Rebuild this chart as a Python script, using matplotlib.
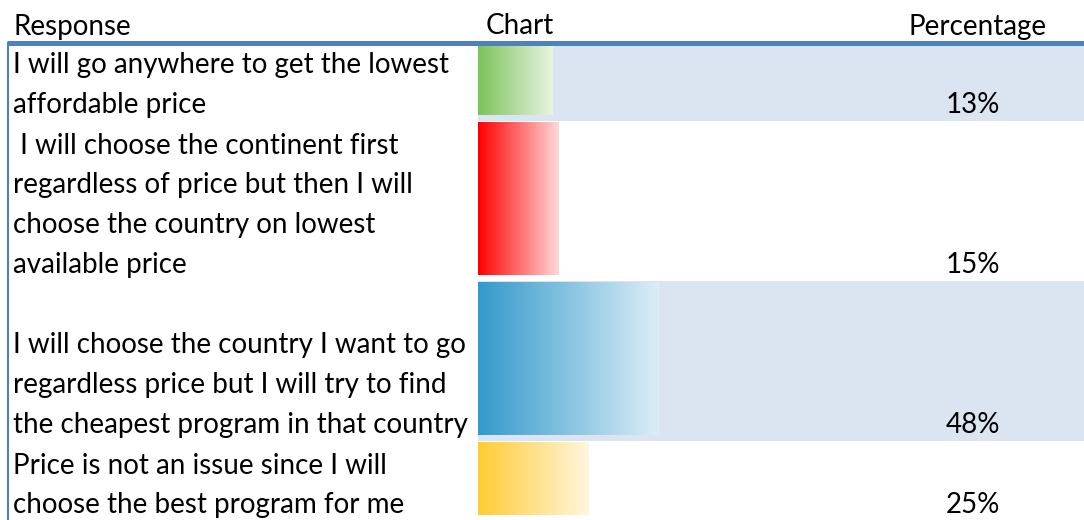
import numpy as np
import matplotlib.pyplot as plt
from matplotlib.colors import LinearSegmentedColormap

# survey data
responses = [
    "I will go anywhere to get the lowest\naffordable price",
    " I will choose the continent first\nregardless of price but then I will\nchoose the country on lowest\navailable price",
    "\nI will choose the country I want to go\nregardless price but I will try to find\nthe cheapest program in that country",
    "Price is not an issue since I will\nchoose the best program for me",
]
percentages = [13, 15, 48, 25]
bar_colors = [("#7DC35A", "#E8F4E2"), ("#FF0000", "#FFD8DA"),
              ("#3399CC", "#DCEEF6"), ("#FFCC33", "#FFF6DE")]
headers = ["Response", "Chart", "Percentage"]

# layout (pixels)
W, H = 1084, 520
LINE_H = 40
TOP = 41
CHART_X = 478
PX_PER_PCT = 3.04
BASELINE = -11.35       # bars start a little left of zero, like the sheet's axis
SHADE = "#DBE5F1"
RULE = "#4F81BD"
FONT = "Lato"
FS = 20.0

fig = plt.figure(figsize=(W / 100, H / 100), dpi=100)
ax = fig.add_axes([0, 0, 1, 1])
ax.set_xlim(0, W)
ax.set_ylim(H, 0)
ax.axis("off")

bx = fig.add_axes([CHART_X / W, 0, 1 - CHART_X / W, 1], zorder=0)
bx.axis("off")
ax.set_zorder(1)
ax.patch.set_alpha(0)

# header
ax.text(13, 34.5, headers[0], fontsize=FS, family=FONT, va="baseline")
ax.text(486, 34.5, headers[1], fontsize=FS, family=FONT, va="baseline")
ax.text(1047, 34.5, headers[2], fontsize=FS, family=FONT, va="baseline", ha="right")
ax.plot([7, W], [42.8, 42.8], color=RULE, lw=3.6, solid_capstyle="butt")
ax.plot([8.3, 8.3], [42, H], color=RULE, lw=1.5, solid_capstyle="butt")

grad = np.linspace(0, 1, 256).reshape(1, -1)
y = TOP
for i, (label, pct, (c0, c1)) in enumerate(zip(responses, percentages, bar_colors)):
    lines = label.split("\n")
    n = max(len(lines), 2)
    top, bottom = y, y + n * LINE_H
    if i % 2 == 0:
        bx.axhspan(bottom, top, color=SHADE, lw=0)
    cmap = LinearSegmentedColormap.from_list(f"g{i}", [c0, c1])
    bx.imshow(grad, cmap=cmap, aspect="auto", interpolation="bilinear",
              extent=(BASELINE, pct, bottom - 5.5, top + 2), zorder=2)
    for j, line in enumerate(lines):
        ax.text(13, top + (j + 1) * LINE_H - 7.5, line, fontsize=FS, family=FONT,
                va="baseline")
    ax.text(1000, bottom - 8, f"{pct}%", fontsize=FS, family=FONT,
            va="baseline", ha="right")
    y = bottom

bx.set_xlim(BASELINE, BASELINE + (W - CHART_X) / PX_PER_PCT)
bx.set_ylim(H, 0)

fig.savefig("out.png", dpi=100)
